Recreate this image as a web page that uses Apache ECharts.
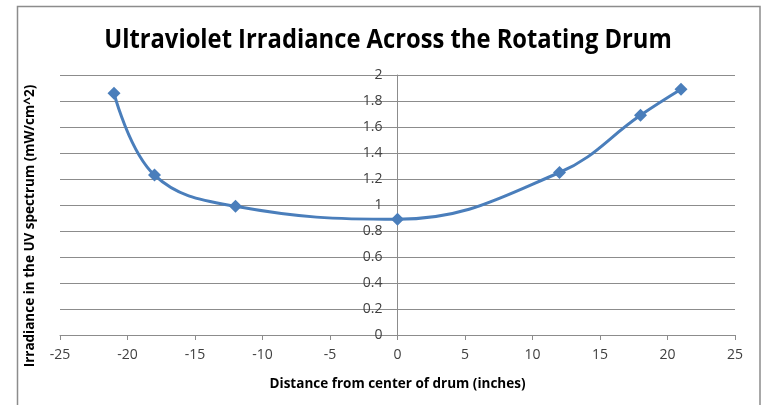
<!DOCTYPE html>
<html>
<head>
<meta charset="utf-8">
<script src="https://cdn.jsdelivr.net/npm/echarts@6/dist/echarts.min.js"></script>
<style>
  html, body { margin: 0; padding: 0; background: #fff; }
  #chart { width: 765px; height: 405px; }
</style>
</head>
<body>
<div id="chart"></div>
<script>
// Distance from the drum centre (inches) and measured UV irradiance (mW/cm^2)
const distances = [-21, -18, -12, 0, 12, 18, 21];
const irradiance = [1.86, 1.23, 0.99, 0.89, 1.25, 1.69, 1.89];

const titleText = 'Ultraviolet Irradiance Across the Rotating Drum';
const xAxisName = 'Distance from center of drum (inches)';
const yAxisName = 'Irradiance in the UV spectrum (mW/cm^2)';

const points = distances.map((d, i) => [d, irradiance[i]]);

const chart = echarts.init(document.getElementById('chart'));
const fontFamily = '"Open Sans", sans-serif';

const gridLeft = 60, gridRight = 30;
const plotWidth = 765 - gridLeft - gridRight;
// place the value axis where x = 0 (x-axis spans -25..25)
const yAxisOffset = -plotWidth * (25 / 50);

chart.setOption({
  animation: false,
  backgroundColor: '#fff',
  grid: { left: gridLeft, right: gridRight, top: 75, bottom: 70 },
  xAxis: {
    type: 'value',
    min: -25, max: 25, interval: 5,
    name: xAxisName,
    nameLocation: 'middle',
    nameGap: 42,
    nameTextStyle: { fontFamily: fontFamily, fontSize: 13.5, fontWeight: 'bold', color: '#000' },
    axisLine: { onZero: false, lineStyle: { color: '#8c8c8c', width: 1 } },
    axisTick: { show: true, length: 5, lineStyle: { color: '#8c8c8c' } },
    axisLabel: { fontFamily: fontFamily, fontSize: 14, color: '#404040', margin: 13 },
    splitLine: { show: false }
  },
  yAxis: {
    type: 'value',
    min: 0, max: 2, interval: 0.2,
    offset: yAxisOffset,
    axisLine: { show: true, onZero: false, lineStyle: { color: '#8c8c8c', width: 1 } },
    axisTick: { show: true, length: 4, lineStyle: { color: '#8c8c8c' } },
    axisLabel: { fontFamily: fontFamily, fontSize: 14, color: '#404040', margin: 15 },
    splitLine: { show: true, lineStyle: { color: '#8c8c8c', width: 1 } }
  },
  graphic: [
    {
      type: 'rect',
      shape: { x: 17.5, y: 6.5, width: 742.5, height: 420 },
      style: { fill: 'none', stroke: '#8c8c8c', lineWidth: 1.5 },
      silent: true
    },
    {
      type: 'text',
      x: 388,
      y: 40,
      scaleX: 0.88,
      style: {
        text: titleText,
        fontFamily: fontFamily,
        fontSize: 27,
        fontWeight: 'bold',
        fill: '#000',
        align: 'center',
        verticalAlign: 'middle'
      }
    },
    {
      type: 'text',
      x: 30,
      y: 226,
      rotation: Math.PI / 2,
      style: {
        text: yAxisName,
        fontFamily: fontFamily,
        fontSize: 13.5,
        fontWeight: 'bold',
        fill: '#000',
        align: 'center',
        verticalAlign: 'middle'
      }
    }
  ],
  series: [{
    type: 'line',
    data: points,
    smooth: 0.4,
    symbol: 'diamond',
    symbolSize: 13,
    lineStyle: { color: '#4A7EBB', width: 3 },
    itemStyle: { color: '#4A7EBB' }
  }]
});
</script>
</body>
</html>
